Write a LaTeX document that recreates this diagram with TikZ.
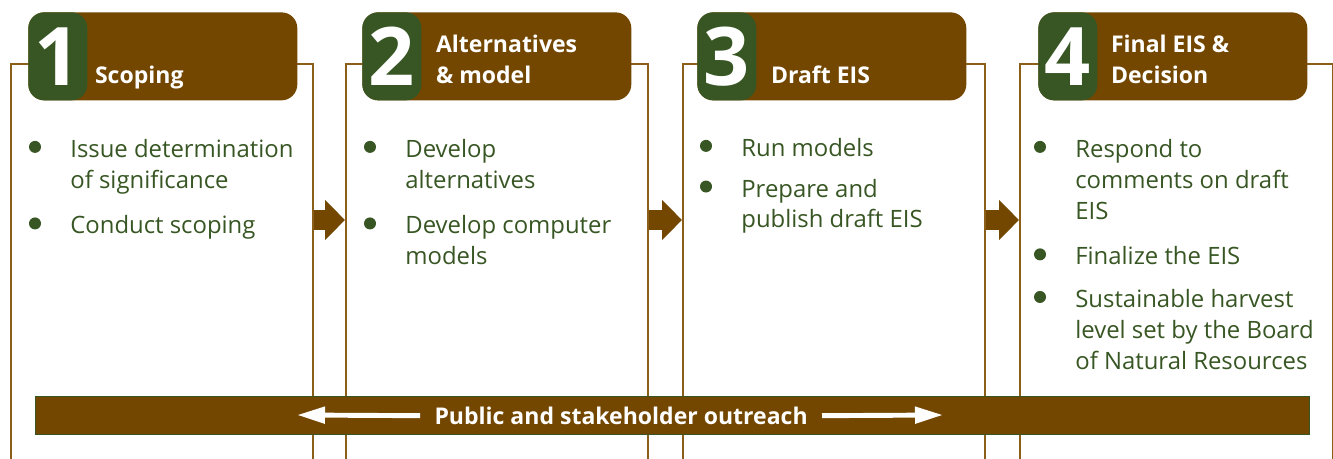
\documentclass[tikz,border=0pt]{standalone}
\usepackage{fontspec}
\setmainfont{Open Sans}
\usetikzlibrary{arrows.meta,positioning}
\definecolor{eisbrown}{RGB}{115,71,0}
\definecolor{eisgreen}{RGB}{55,86,35}
\definecolor{panelline}{RGB}{139,94,26}
\newcommand{\bodyfont}{\fontsize{13.6}{17.6}\selectfont}
\newcommand{\headfont}{\fontsize{13.1}{17.6}\selectfont\bfseries}

\begin{document}
\begin{tikzpicture}[x=0.02cm,y=-0.02cm,
    panel/.style={rectangle,draw=panelline,line width=1.1pt,minimum width=6.04cm,
      minimum height=8.4cm,anchor=north west,inner sep=0pt},
    header/.style={rectangle,rounded corners=9pt,fill=eisbrown,minimum width=5.38cm,
      minimum height=1.76cm,anchor=north west,inner sep=0pt},
    numbox/.style={rectangle,rounded corners=9pt,fill=eisgreen,minimum width=1.18cm,
      minimum height=1.76cm,inner sep=0pt,text=white,anchor=north west,
      font=\fontsize{46}{46}\selectfont\bfseries},
    title/.style={anchor=south west,inner sep=0pt,align=left,text=white,font=\headfont},
    item/.style={anchor=north west,inner sep=0pt,align=left,text=eisgreen,font=\bodyfont},
    dot/.style={circle,fill=eisgreen,minimum size=0.24cm,inner sep=0pt},
    blockarrow/.style={-{Triangle[length=0.4cm,width=0.78cm]},line width=0.4cm,draw=eisbrown},
    outarrow/.style={-{Triangle[length=0.56cm,width=0.32cm]},line width=2.8pt,draw=white}]
  \clip (0,0) rectangle (1333,459);
  % stage panels
  \node[panel] (p1) at (10,63) {};
  \node[panel] (p2) at (345,63) {};
  \node[panel] (p3) at (682,63) {};
  \node[panel,minimum width=6.26cm] (p4) at (1019,63) {};
  \draw[blockarrow] (p1.east |- 0,220) -- (p2.west |- 0,220);
  \draw[blockarrow] (p2.east |- 0,220) -- (p3.west |- 0,220);
  \draw[blockarrow] (p3.east |- 0,220) -- (p4.west |- 0,220);
  % headers
  \node[header] (h1) at (28,12) {};
  \node[numbox] (n1) at (h1.north west) {1};
  \node[title] (t1) at ([xshift=0.14cm,yshift=0.16cm]n1.south east) {Scoping\strut};
  \node[header] (h2) at (362,12) {};
  \node[numbox] (n2) at (h2.north west) {2};
  \node[title] (t2) at ([xshift=0.28cm,yshift=0.16cm]n2.south east) {Alternatives\\\& model\strut};
  \node[header] (h3) at (697,12) {};
  \node[numbox] (n3) at (h3.north west) {3};
  \node[title] (t3) at ([xshift=0.28cm,yshift=0.16cm]n3.south east) {Draft EIS\strut};
  \node[header] (h4) at (1038,12) {};
  \node[numbox] (n4) at (h4.north west) {4};
  \node[title] (t4) at ([xshift=0.26cm,yshift=0.16cm]n4.south east) {Final EIS \&\\Decision\strut};
  % bullet lists
  \node[item] (i11) at (70,135.4) {\strut Issue determination\\of significance\strut};
  \node[item,below=0.28cm of i11.south west,anchor=north west] (i12) {\strut Conduct scoping\strut};
  \node[item] (i21) at (405,135.4) {\strut Develop\\alternatives\strut};
  \node[item,below=0.28cm of i21.south west,anchor=north west] (i22) {\strut Develop computer\\models\strut};
  \node[item] (i31) at (741,134.4) {\strut Run models\strut};
  \node[item,below=0.18cm of i31.south west,anchor=north west] (i32) {\strut Prepare and\\publish draft EIS\strut};
  \node[item] (i41) at (1075,135.4) {\strut Respond to\\comments on draft\\EIS\strut};
  \node[item,below=0.28cm of i41.south west,anchor=north west] (i42) {\strut Finalize the EIS\strut};
  \node[item,below=0.22cm of i42.south west,anchor=north west] (i43) {\strut Sustainable harvest\\level set by the Board\\of Natural Resources\strut};
  \node[dot] (b11) at ([xshift=-0.7cm,yshift=-0.23cm]i11.north west) {};
  \node[dot] (b12) at ([xshift=-0.7cm,yshift=-0.23cm]i12.north west) {};
  \node[dot] (b21) at ([xshift=-0.7cm,yshift=-0.23cm]i21.north west) {};
  \node[dot] (b22) at ([xshift=-0.7cm,yshift=-0.23cm]i22.north west) {};
  \node[dot] (b31) at ([xshift=-0.7cm,yshift=-0.23cm]i31.north west) {};
  \node[dot] (b32) at ([xshift=-0.7cm,yshift=-0.23cm]i32.north west) {};
  \node[dot] (b41) at ([xshift=-0.7cm,yshift=-0.23cm]i41.north west) {};
  \node[dot] (b42) at ([xshift=-0.7cm,yshift=-0.23cm]i42.north west) {};
  \node[dot] (b43) at ([xshift=-0.7cm,yshift=-0.23cm]i43.north west) {};
  % outreach bar
  \node[rectangle,fill=eisbrown,draw=eisgreen,line width=0.8pt,minimum width=25.48cm,
    minimum height=0.76cm,anchor=north west,inner sep=0pt] (bar) at (35,396) {};
  \node[text=white,font=\headfont,inner xsep=0.28cm,inner ysep=0pt] (outreach)
    at ([xshift=-1.03cm]bar.center) {Public and stakeholder outreach};
  \coordinate (outL) at (297,415);
  \coordinate (outR) at (943,415);
  \draw[outarrow] (outreach.west) -- (outL);
  \draw[outarrow] (outreach.east) -- (outR);
\end{tikzpicture}
\end{document}
